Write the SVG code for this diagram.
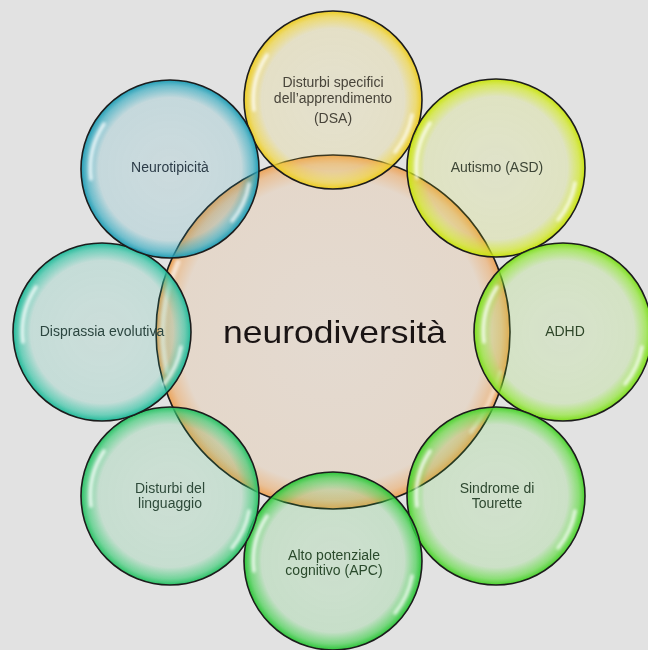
<svg xmlns="http://www.w3.org/2000/svg" xmlns:xlink="http://www.w3.org/1999/xlink" width="648" height="650" viewBox="0 0 648 650">
<style>
.ring{stroke:#1c1c1c;stroke-width:1.6}
.lbl{font-family:"Liberation Sans",Arial,sans-serif;font-size:14px;text-anchor:middle}
.big{font-family:"Liberation Sans",Arial,sans-serif;font-size:32px;fill:#1a1414}
</style>
<defs>
<filter id="blur" x="-20%" y="-20%" width="140%" height="140%"><feGaussianBlur stdDeviation="1.8"/></filter>
<g id="hl" filter="url(#blur)" fill="none" stroke="#ffffff" stroke-linecap="round">
<path d="M -79 10 A 81 81 0 0 1 -66 -45" stroke-width="3.5" opacity="0.8"/>
<path d="M 79 15 A 81 81 0 0 1 62 52" stroke-width="3.5" opacity="0.75"/>
</g>
<g id="hlc" filter="url(#blur)" fill="none" stroke="#ffffff" stroke-linecap="round">
<path d="M -166 40 A 172 172 0 0 1 -155 -70" stroke-width="5" opacity="0.6"/>
<path d="M 167 40 A 172 172 0 0 1 138 100" stroke-width="4" opacity="0.5"/>
</g>
<radialGradient id="gC"><stop offset="0" stop-color="#f0a050" stop-opacity="0.12"/><stop offset="0.86" stop-color="#f0a050" stop-opacity="0.16"/><stop offset="0.95" stop-color="#f0a050" stop-opacity="0.5"/><stop offset="1" stop-color="#ee9840" stop-opacity="0.85"/></radialGradient>
<radialGradient id="g1"><stop offset="0" stop-color="#f2d63a" stop-opacity="0.12"/><stop offset="0.8" stop-color="#f2d63a" stop-opacity="0.16"/><stop offset="0.93" stop-color="#f2d63a" stop-opacity="0.65"/><stop offset="1" stop-color="#eccb20" stop-opacity="1"/></radialGradient>
<radialGradient id="g2"><stop offset="0" stop-color="#d2ea1e" stop-opacity="0.12"/><stop offset="0.8" stop-color="#d2ea1e" stop-opacity="0.16"/><stop offset="0.93" stop-color="#d2ea1e" stop-opacity="0.65"/><stop offset="1" stop-color="#c8e210" stop-opacity="1"/></radialGradient>
<radialGradient id="g3"><stop offset="0" stop-color="#8ce82c" stop-opacity="0.12"/><stop offset="0.8" stop-color="#8ce82c" stop-opacity="0.16"/><stop offset="0.93" stop-color="#8ce82c" stop-opacity="0.65"/><stop offset="1" stop-color="#7cdc1c" stop-opacity="1"/></radialGradient>
<radialGradient id="g4"><stop offset="0" stop-color="#5cdc3c" stop-opacity="0.12"/><stop offset="0.8" stop-color="#5cdc3c" stop-opacity="0.16"/><stop offset="0.93" stop-color="#5cdc3c" stop-opacity="0.65"/><stop offset="1" stop-color="#48d02c" stop-opacity="1"/></radialGradient>
<radialGradient id="g5"><stop offset="0" stop-color="#3cd048" stop-opacity="0.12"/><stop offset="0.8" stop-color="#3cd048" stop-opacity="0.16"/><stop offset="0.93" stop-color="#3cd048" stop-opacity="0.65"/><stop offset="1" stop-color="#2cc438" stop-opacity="1"/></radialGradient>
<radialGradient id="g6"><stop offset="0" stop-color="#38cc74" stop-opacity="0.12"/><stop offset="0.8" stop-color="#38cc74" stop-opacity="0.16"/><stop offset="0.93" stop-color="#38cc74" stop-opacity="0.65"/><stop offset="1" stop-color="#28c064" stop-opacity="1"/></radialGradient>
<radialGradient id="g7"><stop offset="0" stop-color="#30c4a4" stop-opacity="0.12"/><stop offset="0.8" stop-color="#30c4a4" stop-opacity="0.16"/><stop offset="0.93" stop-color="#30c4a4" stop-opacity="0.65"/><stop offset="1" stop-color="#20b898" stop-opacity="1"/></radialGradient>
<radialGradient id="g8"><stop offset="0" stop-color="#30aac0" stop-opacity="0.12"/><stop offset="0.8" stop-color="#30aac0" stop-opacity="0.16"/><stop offset="0.93" stop-color="#30aac0" stop-opacity="0.65"/><stop offset="1" stop-color="#209cb4" stop-opacity="1"/></radialGradient>
</defs>
<rect width="648" height="650" fill="#e2e2e2"/>
<g id="connectors"/>
<g id="center">
<circle cx="333" cy="332" r="177" fill="url(#gC)" class="ring"/>
<use href="#hlc" x="333" y="332"/>
<text x="334.5" y="343" class="big" text-anchor="middle" textLength="223" lengthAdjust="spacingAndGlyphs">neurodiversità</text>
</g>
<g id="n-dsa">
<circle cx="333" cy="100" r="89" fill="url(#g1)" class="ring"/>
<use href="#hl" x="333" y="100"/>
<text class="lbl" fill="#48443a"><tspan x="333" y="87">Disturbi specifici</tspan><tspan x="333" y="103">dell’apprendimento</tspan><tspan x="333" y="123">(DSA)</tspan></text>
</g>
<g id="n-asd">
<circle cx="496" cy="168" r="89" fill="url(#g2)" class="ring"/>
<use href="#hl" x="496" y="168"/>
<text class="lbl" fill="#3e4636" x="497" y="172">Autismo (ASD)</text>
</g>
<g id="n-adhd">
<circle cx="563" cy="332" r="89" fill="url(#g3)" class="ring"/>
<use href="#hl" x="563" y="332"/>
<text class="lbl" fill="#2e4628" x="565" y="336">ADHD</text>
</g>
<g id="n-tourette">
<circle cx="496" cy="496" r="89" fill="url(#g4)" class="ring"/>
<use href="#hl" x="496" y="496"/>
<text class="lbl" fill="#2e4830"><tspan x="497" y="493">Sindrome di</tspan><tspan x="497" y="508">Tourette</tspan></text>
</g>
<g id="n-apc">
<circle cx="333" cy="561" r="89" fill="url(#g5)" class="ring"/>
<use href="#hl" x="333" y="561"/>
<text class="lbl" fill="#2a4a2c"><tspan x="334" y="560">Alto potenziale</tspan><tspan x="334" y="575">cognitivo (APC)</tspan></text>
</g>
<g id="n-linguaggio">
<circle cx="170" cy="496" r="89" fill="url(#g6)" class="ring"/>
<use href="#hl" x="170" y="496"/>
<text class="lbl" fill="#2e4a3a"><tspan x="170" y="493">Disturbi del</tspan><tspan x="170" y="508">linguaggio</tspan></text>
</g>
<g id="n-disprassia">
<circle cx="102" cy="332" r="89" fill="url(#g7)" class="ring"/>
<use href="#hl" x="102" y="332"/>
<text class="lbl" fill="#2c4640" x="102" y="336">Disprassia evolutiva</text>
</g>
<g id="n-neurotipicita">
<circle cx="170" cy="169" r="89" fill="url(#g8)" class="ring"/>
<use href="#hl" x="170" y="169"/>
<text class="lbl" fill="#2c3c48" x="170" y="172">Neurotipicità</text>
</g>
</svg>
